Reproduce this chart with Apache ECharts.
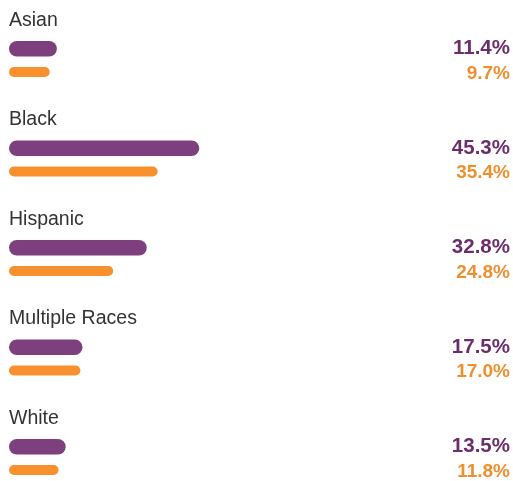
<!DOCTYPE html>
<html><head><meta charset="utf-8">
<script src="https://cdn.jsdelivr.net/npm/echarts@6/dist/echarts.min.js"></script>
<style>html,body{margin:0;padding:0;background:#fff}#c{width:513px;height:481px}</style>
</head><body><div id="c"></div>
<script>
const categories = ['Asian', 'Black', 'Hispanic', 'Multiple Races', 'White'];
const purpleValues = [11.4, 45.3, 32.8, 17.5, 13.5];
const orangeValues = [9.7, 35.4, 24.8, 17.0, 11.8];

const chart = echarts.init(document.getElementById('c'));
chart.setOption({
  animation: false,
  grid: { left: 9, right: 80, top: 59, height: 400, containLabel: false },
  xAxis: { type: 'value', min: 0, max: 100, show: false },
  yAxis: [
    {
      type: 'category', data: categories, inverse: true, boundaryGap: false,
      axisLine: { show: false }, axisTick: { show: false }, splitLine: { show: false },
      axisLabel: {
        inside: true, margin: 0, align: 'left', verticalAlign: 'middle',
        formatter: function (v) { return '{n|' + v + '}\n{s| }'; },
        rich: {
          n: { fontFamily: 'Liberation Sans', fontSize: 19.5, color: '#333333', lineHeight: 20 },
          s: { fontSize: 10, lineHeight: 77 }
        }
      }
    },
    {
      type: 'category', data: categories, inverse: true, position: 'right', boundaryGap: false,
      axisLine: { show: false }, axisTick: { show: false }, splitLine: { show: false },
      axisLabel: {
        margin: 81, align: 'right', verticalAlign: 'middle',
        formatter: function (v, i) {
          return '{t| }\n{p|' + purpleValues[i].toFixed(1) + '%}\n{o|' + orangeValues[i].toFixed(1) + '%}';
        },
        rich: {
          t: { fontSize: 4, lineHeight: 4 },
          p: { fontFamily: 'Liberation Sans', fontWeight: 'bold', fontSize: 20.5, color: '#6b2d6c', lineHeight: 25, align: 'right' },
          o: { fontFamily: 'Liberation Sans', fontWeight: 'bold', fontSize: 19, color: '#f08f2e', lineHeight: 25, align: 'right' }
        }
      }
    }
  ],
  series: [
    {
      type: 'bar', data: purpleValues, barWidth: 15.5, barGap: '67%',
      itemStyle: { color: '#7d3f7e', borderRadius: 8 }
    },
    {
      type: 'bar', data: orangeValues, barWidth: 10,
      itemStyle: { color: '#f7902d', borderRadius: 5 }
    }
  ]
});
</script></body></html>
